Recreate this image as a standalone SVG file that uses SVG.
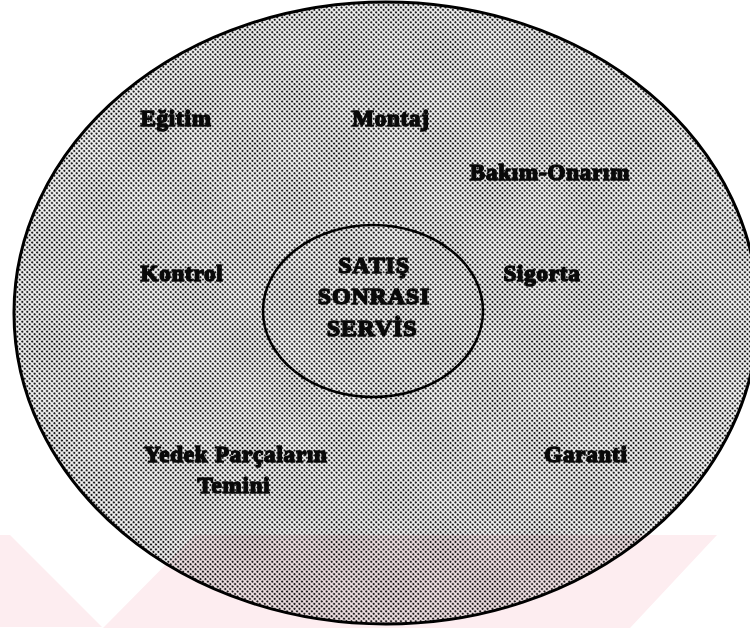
<svg xmlns="http://www.w3.org/2000/svg" width="750" height="628" viewBox="0 0 750 628">
  <defs>
    <pattern id="dots" patternUnits="userSpaceOnUse" width="3.5" height="3.5" patternTransform="rotate(45)">
      <rect width="3.5" height="3.5" fill="#f6f6f6"/>
      <circle cx="1.75" cy="1.75" r="1.2" fill="#1c1c1c"/>
    </pattern>
  </defs>
  <style>
    .lbl { font-family: "Liberation Serif", "Times New Roman", serif; font-weight: bold; font-size: 23px; letter-spacing: 0.8px; fill: #0a0a0a; stroke: #0a0a0a; stroke-width: 1.5; stroke-linejoin: round; text-anchor: middle; }
    .ctr { font-size: 24px; }
    .edge { stroke: #000; fill: url(#dots); }
  </style>
  <rect width="750" height="628" fill="#ffffff"/>

  <g id="outer">
    <ellipse class="edge" cx="386" cy="313" rx="372" ry="311" stroke-width="3"/>
  </g>

  <g id="center">
    <ellipse class="edge" cx="373" cy="311" rx="110" ry="86" stroke-width="2.5"/>
    <text class="lbl ctr" x="374" y="273">SATIŞ</text>
    <text class="lbl ctr" x="374" y="304">SONRASI</text>
    <text class="lbl ctr" x="372" y="336">SERVİS</text>
  </g>

  <g id="egitim"><text class="lbl" x="176" y="126">Eğitim</text></g>
  <g id="montaj"><text class="lbl" x="391" y="126">Montaj</text></g>
  <g id="bakim"><text class="lbl" x="550" y="180">Bakım-Onarım</text></g>
  <g id="kontrol"><text class="lbl" x="182" y="281">Kontrol</text></g>
  <g id="sigorta"><text class="lbl" x="542" y="281">Sigorta</text></g>
  <g id="yedek">
    <text class="lbl" x="236" y="462">Yedek Parçaların</text>
    <text class="lbl" x="234" y="493">Temini</text>
  </g>
  <g id="garanti"><text class="lbl" x="586" y="462">Garanti</text></g>

  <g id="connectors"></g>

  <g id="watermark" style="mix-blend-mode:multiply" fill="#fdedf0">
    <polygon points="0,535 10,535 102,627 0,627"/>
    <polygon points="195,535 717,535 630,628 103,628"/>
  </g>
</svg>
